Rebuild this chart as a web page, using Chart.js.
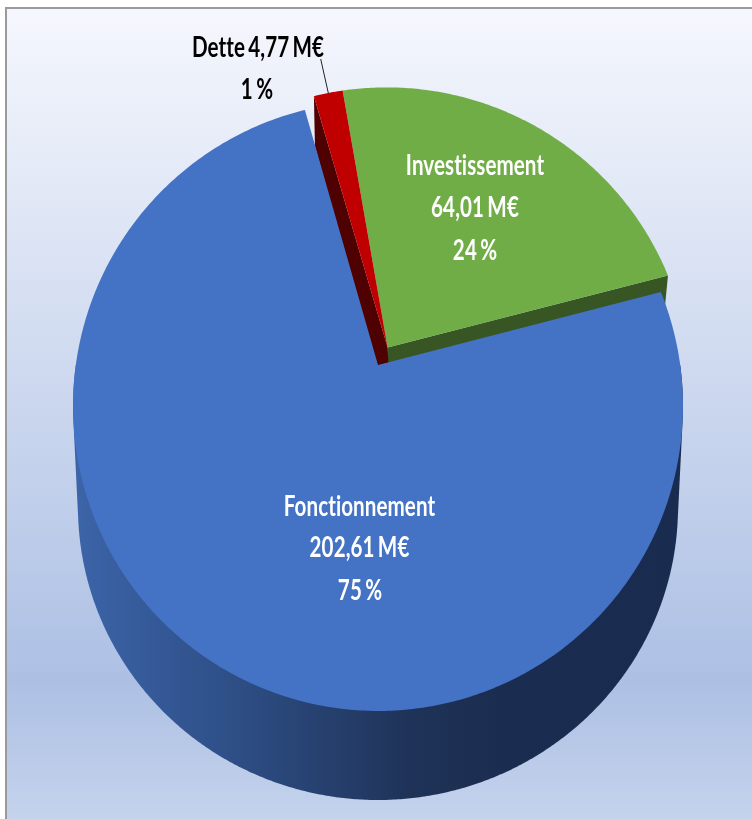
<!DOCTYPE html>
<html lang="fr">
<head>
<meta charset="utf-8">
<title>Budget</title>
<script src="https://cdn.jsdelivr.net/npm/chart.js@4/dist/chart.umd.min.js"></script>
<style>
html,body{margin:0;padding:0;background:#fff;}
#frame{position:absolute;left:5px;top:7px;width:747px;height:812px;box-sizing:border-box;
  border-left:2px solid #9a9a9a;border-top:2px solid #9a9a9a;
  background:linear-gradient(180deg,#f5f7fd 0,#adc0e4 672px,#c5d3ec 812px);}
canvas{position:absolute;left:0;top:0;}
</style>
</head>
<body>
<div id="frame"></div>
<canvas id="c" width="752" height="819"></canvas>
<script>
const categories = ["Dette", "Investissement", "Fonctionnement"];
const amounts = [4.77, 64.01, 202.61];
const amountLabels = ["4,77 M€", "64,01 M€", "202,61 M€"];
const percentLabels = ["1 %", "24 %", "75 %"];
const topColors = ["#c00000", "#70ad47", "#4472c4"];
const wallColors = ["#4f0000", "#375623", null];

// Perspective of the pie's top face: unit disc -> picture.
const cx = 378, persp = -0.1344, ampY = 250.4, midY = 365, ampX = 302.2;
const project = (u, v) => {
  const w = 1 + persp * v;
  return [cx + ampX * u / w, (ampY * v + midY) / w];
};
// Lower rim of the cylinder.
const lower = (u, v) => [cx + 300 * u, 507 + 293 * v];
// The two small slices are pulled away together.
const pull = {0: [0.032, -0.059], 1: [0.032, -0.059], 2: [0, 0]};
// How far the cut faces drop at centre and at rim.
const drops = {0: {c: [-12, 24], r: [1, 50], extra: [1, 20]}, 1: {c: [0, 18], r: [-3, 31]}};

const textScale = 0.71, fontTxt = "bold 29px Lato, 'Liberation Sans'";

function facePoints(el, i) {
  const [du, dv] = pull[i];
  const pts = [project(du, dv)];
  const n = Math.max(4, Math.ceil((el.endAngle - el.startAngle) / 0.01));
  for (let k = 0; k <= n; k++) {
    const a = el.startAngle + (el.endAngle - el.startAngle) * k / n;
    pts.push(project(Math.cos(a) + du, Math.sin(a) + dv));
  }
  return pts;
}
function fillPoly(ctx, pts, color) {
  ctx.beginPath();
  pts.forEach((p, i) => i ? ctx.lineTo(p[0], p[1]) : ctx.moveTo(p[0], p[1]));
  ctx.closePath();
  ctx.fillStyle = color;
  ctx.fill();
}
function convexHull(points) {
  const p = points.slice().sort((a, b) => a[0] - b[0] || a[1] - b[1]);
  const cross = (o, a, b) => (a[0] - o[0]) * (b[1] - o[1]) - (a[1] - o[1]) * (b[0] - o[0]);
  const half = list => {
    const out = [];
    list.forEach(q => {
      while (out.length > 1 && cross(out[out.length - 2], out[out.length - 1], q) <= 0) out.pop();
      out.push(q);
    });
    out.pop();
    return out;
  };
  return half(p).concat(half(p.slice().reverse()));
}

const pie3d = {
  id: "pie3d",
  beforeDatasetsDraw(chart) {
    const ctx = chart.ctx;
    const arcs = chart.getDatasetMeta(0).data;
    const main = arcs[2];

    // outer wall of the large slice: hull of the front half of its two rims
    const g = ctx.createLinearGradient(75, 0, 683, 0);
    g.addColorStop(0, "#3c64a8");
    g.addColorStop(0.22, "#30528c");
    g.addColorStop(0.38, "#284373");
    g.addColorStop(0.55, "#1f3358");
    g.addColorStop(0.72, "#1a2c4f");
    g.addColorStop(1, "#192b4e");
    const steps = Math.ceil((main.endAngle - main.startAngle) / 0.008);
    const rims = [];
    for (let k = 0; k <= steps; k++) {
      const a = main.startAngle + (main.endAngle - main.startAngle) * k / steps;
      if (Math.sin(a) < 0) continue;
      rims.push(project(Math.cos(a), Math.sin(a)));
      rims.push(lower(Math.cos(a), Math.sin(a)));
    }
    fillPoly(ctx, convexHull(rims), g);

    // cut faces of the pulled slices
    [1, 0].forEach(i => {
      const pts = facePoints(arcs[i], i);
      const c = pts[0];
      // Dette shows its start edge; Investissement shows its end edge
      const r = i === 0 ? pts[1] : pts[pts.length - 1];
      const d = drops[i];
      const poly = [c, r, [r[0] + d.r[0], r[1] + d.r[1]], [c[0] + d.c[0], c[1] + d.c[1]]];
      if (d.extra) poly.push([c[0] + d.extra[0], c[1] + d.extra[1]]);
      fillPoly(ctx, poly, wallColors[i]);
    });

    // top faces
    [1, 0, 2].forEach(i => fillPoly(ctx, facePoints(arcs[i], i), topColors[i]));
    return false;
  },
  afterDraw(chart) {
    const ctx = chart.ctx;
    const write = (txt, x, y, color) => {
      ctx.save();
      ctx.translate(x, y);
      ctx.scale(textScale, 1);
      ctx.font = fontTxt;
      ctx.letterSpacing = "0.1px";
      ctx.wordSpacing = "-2.5px";
      ctx.textAlign = "center";
      ctx.textBaseline = "alphabetic";
      ctx.fillStyle = color;
      ctx.fillText(txt, 0, 0);
      ctx.restore();
    };
    write(categories[2], 359.5, 516, "#fff");
    write(amountLabels[2], 359.5, 557, "#fff");
    write(percentLabels[2], 360, 600, "#fff");
    write(categories[1], 475, 175, "#fff");
    write(amountLabels[1], 475, 217, "#fff");
    write(percentLabels[1], 475, 260, "#fff");
    write(categories[0] + " " + amountLabels[0], 258, 57, "#000");
    write(percentLabels[0], 257, 99, "#000");
    ctx.save();
    ctx.strokeStyle = "#222";
    ctx.lineWidth = 1;
    ctx.beginPath();
    ctx.moveTo(320.7, 59);
    ctx.lineTo(328.3, 93);
    ctx.stroke();
    ctx.restore();
  }
};

new Chart(document.getElementById("c"), {
  type: "pie",
  plugins: [pie3d],
  data: {
    labels: categories,
    datasets: [{ data: amounts, backgroundColor: topColors, borderWidth: 0 }]
  },
  options: {
    responsive: false,
    animation: false,
    rotation: -15.85,
    events: [],
    plugins: { legend: { display: false }, tooltip: { enabled: false } }
  }
});
</script>
</body>
</html>
